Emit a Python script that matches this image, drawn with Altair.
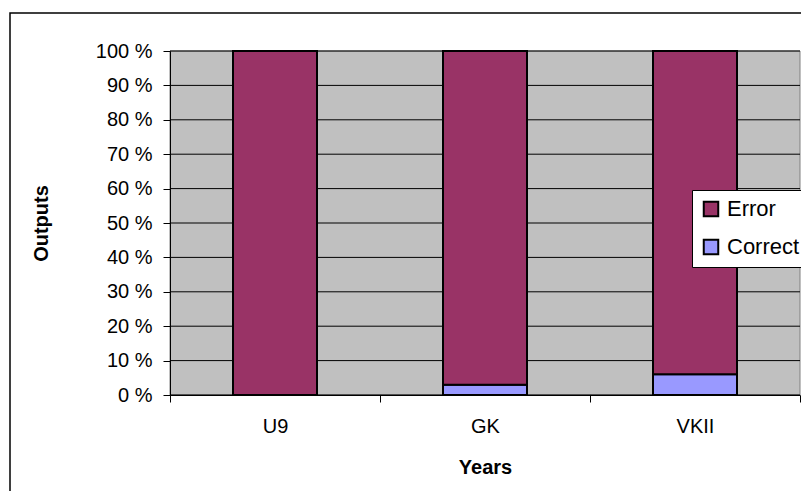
import altair as alt
import pandas as pd

# Share of outputs per system, in percent
systems = ["U9", "GK", "VKII"]
correct = [0, 3, 6]
error = [100, 97, 94]
outcomes = ["Error", "Correct"]
y_ticks = [0, 10, 20, 30, 40, 50, 60, 70, 80, 90, 100]

rows = []
for s, c, e in zip(systems, correct, error):
    rows.append({"system": s, "outcome": "Correct", "share": c, "rank": 0})
    rows.append({"system": s, "outcome": "Error", "share": e, "rank": 1})
df = pd.DataFrame(rows)
grid_df = pd.DataFrame({"share": y_ticks})

PLOT_W, PLOT_H = 630, 344
FONT = "Liberation Sans"
y_scale = alt.Scale(domain=[0, 100], nice=False)

y_axis = alt.Axis(
    values=y_ticks, labelExpr="datum.value + ' %'",
    labelFontSize=20, labelFont=FONT, labelColor="black",
    labelPadding=11, labelOverlap=False, labelBound=False,
    labelFlush=False,
    titleFont=FONT, titleFontSize=20, titleFontWeight="bold",
    titleColor="black", titleX=-129, titleY=172, titleAngle=270,
    titleBaseline="middle",
    domainColor="black", tickColor="black", tickSize=7,
    grid=False, zindex=1,
)

# Outer frame around the whole chart
frame = alt.Chart(pd.DataFrame({"k": [0]})).mark_rect(
    fill="white", stroke="black", strokeWidth=1.5
).encode(
    x=alt.value(-160), x2=alt.value(PLOT_W + 30),
    y=alt.value(-38), y2=alt.value(PLOT_H + 130),
)

plot_bg = alt.Chart(pd.DataFrame({"k": [0]})).mark_rect(
    fill="#C0C0C0", stroke="#808080", strokeWidth=1
).encode(
    x=alt.value(0), x2=alt.value(PLOT_W),
    y=alt.value(0), y2=alt.value(PLOT_H),
)

# Horizontal gridlines at each 10 %
grid = alt.Chart(grid_df).mark_rule(color="black", strokeWidth=1).encode(
    y=alt.Y("share:Q", scale=y_scale, title="Outputs", axis=y_axis),
    x=alt.value(0), x2=alt.value(PLOT_W),
)

bars = alt.Chart(df).mark_bar(
    size=84, stroke="black", strokeWidth=2
).encode(
    x=alt.X(
        "system:N", sort=systems, title="Years",
        scale=alt.Scale(paddingInner=0, paddingOuter=0),
        axis=alt.Axis(
            labelAngle=0, tickBand="extent", labelFontSize=20,
            labelFont=FONT, labelColor="black", labelPadding=14,
            titleFont=FONT, titleFontSize=20, titleFontWeight="bold",
            titleColor="black", titleX=315, titleY=72,
            titleBaseline="middle",
            domainColor="black", tickColor="black", tickSize=7,
            grid=False, zindex=1,
        ),
    ),
    y=alt.Y("share:Q", stack="zero", title="Outputs", scale=y_scale,
            axis=y_axis),
    color=alt.Color(
        "outcome:N",
        scale=alt.Scale(domain=outcomes, range=["#993366", "#9999FF"]),
        legend=alt.Legend(
            title=None, orient="none", legendX=522, legendY=139,
            labelFont=FONT, labelFontSize=22, labelColor="black",
            symbolType="square", symbolSize=210, symbolStrokeColor="black",
            symbolStrokeWidth=2, symbolOpacity=1,
            fillColor="white", strokeColor="black", padding=8,
            rowPadding=14, labelOffset=5,
        ),
    ),
    order=alt.Order("rank:Q"),
)

chart = alt.layer(frame, plot_bg, grid, bars).properties(
    width=PLOT_W, height=PLOT_H,
    autosize=alt.AutoSizeParams(type="none"),
    padding={"left": 170, "top": 51, "right": 1, "bottom": 96},
    background="white",
).configure_view(stroke=None)

chart.save("out.html", embed_options={"renderer": "svg", "actions": False})
